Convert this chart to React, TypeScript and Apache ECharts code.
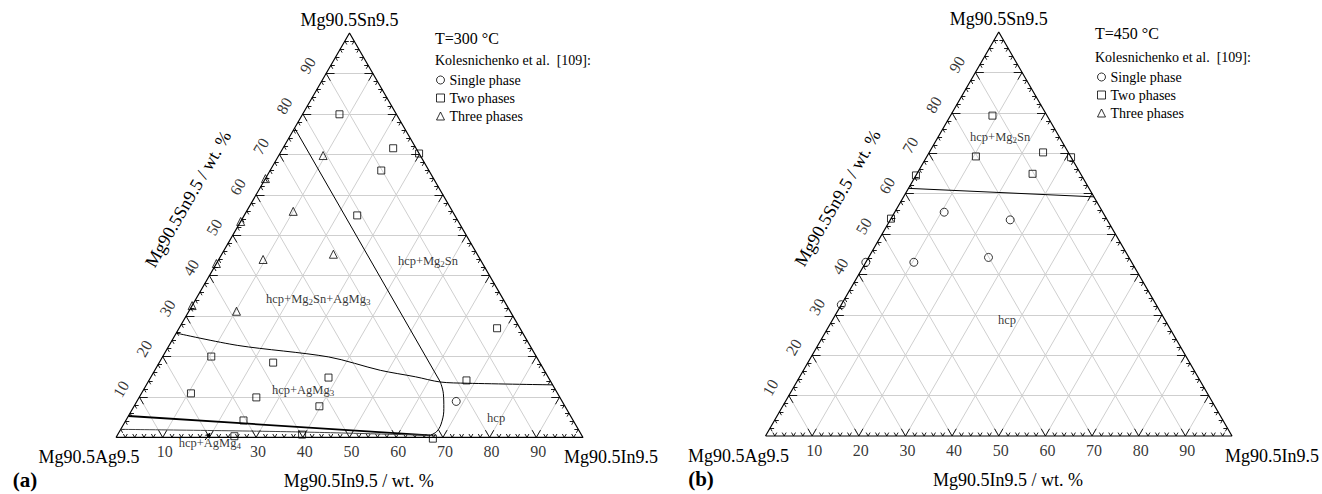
import React, { useEffect, useRef } from 'react';
import * as echarts from 'echarts';

const SQ = Math.sqrt(3) / 2;
const FONT = '"Liberation Serif", "Times New Roman", serif';

// All compositions are [Mg90.5In9.5 wt.%, Mg90.5Sn9.5 wt.%]
const aSingle = [[68.4, 8.9]];
const aTwo = [
  [7.9, 79.9], [23.6, 71.5], [29.8, 70.2], [23.8, 66.0], [24.2, 54.9],
  [68.1, 27.0], [68.0, 14.1], [10.4, 20.0], [24.4, 18.5], [38.1, 14.8],
  [10.6, 10.9], [25.1, 9.9], [39.7, 7.7], [25.2, 4.2], [25.2, 0.3],
  [39.5, 0.7], [68.0, -0.3],
];
const aThree = [
  [9.5, 69.7], [0, 64.0], [10.0, 55.9], [0, 53.4], [9.5, 44.0],
  [23.9, 45.3], [0, 43.0], [0, 32.6], [10.2, 31.2],
];
const bSingle = [[10.6, 55.4], [25.7, 53.5], [0, 43.0], [10.3, 43.0], [25.7, 44.2], [0, 32.5]];
const bTwo = [[9.0, 79.3], [10.5, 69.2], [24.4, 70.2], [31.0, 69.0], [24.8, 64.9], [0, 64.5], [0, 53.8]];
const bThree: number[][] = [];

// phase boundaries
const aBoundMg2Sn = [[0, 76.5], [62.6, 13.7]];
const aBoundAgMg3 = [[0, 25.8], [14.7, 22.75], [35.6, 19.9], [48.3, 16.6], [56.6, 15.0], [62.6, 13.7], [68.5, 13.4], [87.0, 13.0]];
const aBoundHcp = [[62.6, 13.7], [64.7, 10.8], [66.6, 7.2], [67.8, 4.0], [68.0, 1.6], [67.0, 0.5]];
const aBoundAgMg4 = [[0, 5.3], [67.0, 0.5]];
const aBoundBottom = [[0, 2.0], [36.8, 1.4], [67.0, 0.5]];
const bBoundMg2Sn = [[0, 61.3], [40.8, 59.2]];
const aArrow = [[19.4, -0.64], [19.6, 1.1]];

// region labels
const aRegionNames = ['hcp+Mg2Sn', 'hcp+Mg2Sn+AgMg3', 'hcp+AgMg3', 'hcp', 'hcp+AgMg4'];
const aRegionPos = [[45.1, 43.4], [26.3, 34.0], [34.2, 11.7], [79.0, 4.8], [20.9, -1.6]];
const bRegionNames = ['hcp+Mg2Sn', 'hcp'];
const bRegionPos = [[13.3, 74.0], [37.4, 28.7]];

// tick labels
const gridLevels = [10, 20, 30, 40, 50, 60, 70, 80, 90];
const leftTickLabels = [10, 20, 30, 40, 50, 60, 70, 80, 90];
const aBottomTickLabels = [10, 30, 40, 50, 60, 70, 80, 90];
const bBottomTickLabels = [10, 20, 30, 40, 50, 60, 70, 80, 90];

const vertexTop = 'Mg90.5Sn9.5';
const vertexLeft = 'Mg90.5Ag9.5';
const vertexRight = 'Mg90.5In9.5';
const axisBottom = 'Mg90.5In9.5 / wt. %';
const axisLeft = 'Mg90.5Sn9.5 / wt. %';
const legendNames = ['Single phase', 'Two phases', 'Three phases'];
const refText = 'Kolesnichenko et al.  [109]:';

const panels = [
  {
    L: 116, T: 33, S: 467, tag: '(a)', temp: 'T=300 °C',
    single: aSingle, two: aTwo, three: aThree,
    bounds: [
      { d: aBoundMg2Sn, w: 1, c: '#000', smooth: false },
      { d: aBoundAgMg3, w: 1, c: '#000', smooth: 0.3 },
      { d: aBoundHcp, w: 1, c: '#000', smooth: 0.4 },
      { d: aBoundAgMg4, w: 1.8, c: '#000', smooth: false },
      { d: aBoundBottom, w: 1, c: '#444', smooth: 0.3 },
    ],
    arrow: aArrow,
    regionNames: aRegionNames, regionPos: aRegionPos,
    bottomLabels: aBottomTickLabels,
    lay: { tagX: 25, rightOff: 28, tempX: 435, tempY: 38, refY: 60, legTop: 73, legLeft: 436 },
  },
  {
    L: 765.5, T: 32, S: 466.5, tag: '(b)', temp: 'T=450 °C',
    single: bSingle, two: bTwo, three: bThree,
    bounds: [{ d: bBoundMg2Sn, w: 1, c: '#000', smooth: false }],
    arrow: null,
    regionNames: bRegionNames, regionPos: bRegionPos,
    bottomLabels: bBottomTickLabels,
    lay: { tagX: 701, rightOff: 40, tempX: 1095, tempY: 33, refY: 57, legTop: 70, legLeft: 1097 },
  },
];

const tx = (In: number, Sn: number) => [In + Sn / 2, Sn * SQ];

function richName(name: string) {
  return name
    .split(/(\d)/)
    .map((t, i) => (i % 2 ? `{s|${t}}` : t ? `{n|${t}}` : ''))
    .join('');
}

function gridSegments() {
  const segs: any[] = [];
  gridLevels.forEach((p) => {
    segs.push({ coords: [tx(0, p), tx(100 - p, p)] });
    segs.push({ coords: [tx(p, 0), tx(p, 100 - p)] });
    segs.push({ coords: [tx(100 - p, 0), tx(0, 100 - p)] });
  });
  return segs;
}

function tickSegments() {
  const segs: any[] = [];
  for (let k = 2; k < 100; k += 2) {
    const L = k % 10 === 0 ? 1.8 : 0.85;
    segs.push({ coords: [tx(k, 0), tx(k, L)] });
    segs.push({ coords: [tx(k, 0), tx(k - L, L)] });
    segs.push({ coords: [tx(0, k), tx(L, k)] });
    segs.push({ coords: [tx(0, k), tx(L, k - L)] });
    segs.push({ coords: [tx(100 - k, k), tx(100 - k - L, k)] });
    segs.push({ coords: [tx(100 - k, k), tx(100 - k, k - L)] });
  }
  return segs;
}

function buildOption() {
  const series: any[] = [];
  const graphic: any[] = [];
  const legend: any[] = [];
  panels.forEach((p, i) => {
    const ax = { xAxisIndex: i, yAxisIndex: i };
    series.push({
      type: 'lines', coordinateSystem: 'cartesian2d', ...ax, silent: true, z: 1,
      lineStyle: { color: '#cfcfcf', width: 1, opacity: 1 },
      data: gridSegments(),
    });
    series.push({
      type: 'lines', coordinateSystem: 'cartesian2d', ...ax, silent: true, z: 3,
      lineStyle: { color: '#000', width: 0.9, opacity: 1 },
      data: tickSegments(),
    });
    series.push({
      type: 'line', ...ax, silent: true, z: 3, showSymbol: false, symbol: 'none', clip: false,
      lineStyle: { color: '#000', width: 1.2 },
      data: [tx(0, 0), tx(100, 0), tx(0, 100), tx(0, 0)],
    });
    p.bounds.forEach((b) => {
      series.push({
        type: 'line', ...ax, silent: true, z: 4, showSymbol: false, symbol: 'none', clip: false,
        smooth: b.smooth, lineStyle: { color: b.c, width: b.w },
        data: b.d.map(([a, s]) => tx(a, s)),
      });
    });
    if (p.arrow) {
      series.push({
        type: 'lines', coordinateSystem: 'cartesian2d', ...ax, silent: true, z: 4, clip: false,
        symbol: ['none', 'arrow'], symbolSize: 5,
        lineStyle: { color: '#000', width: 1, opacity: 1 },
        data: [{ coords: p.arrow.map(([a, s]) => tx(a, s)) }],
      });
    }
    const hollow = { color: 'rgba(255,255,255,0)', borderColor: '#000', borderWidth: 1 };
    series.push({ type: 'scatter', name: 'Single phase', ...ax, clip: false, symbol: 'circle', symbolSize: 8, z: 5, silent: true, itemStyle: hollow, data: p.single.map(([a, s]) => tx(a, s)) });
    series.push({ type: 'scatter', name: 'Two phases', ...ax, clip: false, symbol: 'rect', symbolSize: 7, z: 5, silent: true, itemStyle: hollow, data: p.two.map(([a, s]) => tx(a, s)) });
    series.push({ type: 'scatter', name: 'Three phases', ...ax, clip: false, symbol: 'triangle', symbolSize: 8, z: 5, silent: true, itemStyle: hollow, data: p.three.map(([a, s]) => tx(a, s)) });

    // tick labels
    const invisible = { color: 'rgba(0,0,0,0)' };
    series.push({
      type: 'scatter', ...ax, clip: false, symbolSize: 0.1, silent: true, z: 6, itemStyle: invisible,
      data: leftTickLabels.map((v) => ({ value: tx(0, v), name: String(v) })),
      label: { show: true, position: 'inside', formatter: '{b}', rotate: 60, offset: [-2.3, -20], align: 'center', verticalAlign: 'middle', fontFamily: FONT, fontSize: 16, color: '#000' },
    });
    series.push({
      type: 'scatter', ...ax, clip: false, symbolSize: 0.1, silent: true, z: 6, itemStyle: invisible,
      data: p.bottomLabels.map((v) => ({ value: tx(v, 0), name: String(v) })),
      label: { show: true, position: 'inside', formatter: '{b}', offset: [2, 14], align: 'center', verticalAlign: 'middle', fontFamily: FONT, fontSize: 16, color: '#000' },
    });
    // region labels
    series.push({
      type: 'scatter', ...ax, clip: false, symbolSize: 0.1, silent: true, z: 6, itemStyle: invisible,
      data: p.regionNames.map((n, j) => ({ value: tx(p.regionPos[j][0], p.regionPos[j][1]), name: n })),
      label: {
        show: true, position: 'inside', align: 'center', verticalAlign: 'middle',
        formatter: (prm: any) => richName(prm.name),
        rich: {
          n: { fontFamily: FONT, fontSize: 12.5, color: '#000', lineHeight: 14, verticalAlign: 'top' },
          s: { fontFamily: FONT, fontSize: 9, color: '#000', lineHeight: 10, padding: [7, 0, 0, 0], verticalAlign: 'bottom' },
        },
      },
    });

    legend.push({
      show: true, orient: 'vertical', left: p.lay.legLeft, top: p.lay.legTop, padding: 0,
      itemWidth: 8, itemHeight: 8, itemGap: 4, selectedMode: false,
      data: legendNames,
      textStyle: { fontFamily: FONT, fontSize: 14, color: '#000' },
      itemStyle: { color: 'rgba(255,255,255,0)', borderColor: '#000', borderWidth: 1 },
    });

    const H = p.S * SQ;
    const bottom = p.T + H;
    const right = p.L + p.S;
    const apex = p.L + p.S / 2;
    const txt = (x: number, y: number, text: string, size: number, extra: any = {}) => ({
      type: 'text', x, y, silent: true, rotation: extra.rotation || 0,
      style: { text, fontFamily: FONT, fontSize: size, fontWeight: extra.bold ? 'bold' : 'normal', fill: '#000', align: extra.align || 'center', verticalAlign: 'middle' },
    });
    graphic.push(txt(apex, p.T - 13, vertexTop, 18));
    graphic.push(txt(p.L - 27, bottom + 20, vertexLeft, 18));
    graphic.push(txt(right + p.lay.rightOff, bottom + 20, vertexRight, 18));
    graphic.push(txt(p.L + p.S * 0.52, bottom + 44, axisBottom, 18));
    graphic.push(txt(p.L + 72, p.T + 166, axisLeft, 18, { rotation: Math.PI / 3 }));
    graphic.push(txt(p.lay.tagX, bottom + 43, p.tag, 21, { bold: true }));
    graphic.push(txt(p.lay.tempX, p.lay.tempY, p.temp, 16, { align: 'left' }));
    graphic.push(txt(p.lay.tempX, p.lay.refY, refText, 14, { align: 'left' }));
  });

  return {
    animation: false,
    backgroundColor: '#ffffff',
    grid: panels.map((p) => ({ left: p.L, top: p.T, width: p.S, height: p.S * SQ })),
    xAxis: panels.map((p, i) => ({ type: 'value', gridIndex: i, min: 0, max: 100, show: false })),
    yAxis: panels.map((p, i) => ({ type: 'value', gridIndex: i, min: 0, max: 100 * SQ, show: false })),
    legend,
    series,
    graphic,
  };
}

export default function App() {
  const ref = useRef<HTMLDivElement>(null);
  useEffect(() => {
    if (!ref.current) return;
    const chart = echarts.init(ref.current, undefined, { renderer: 'svg' });
    chart.setOption(buildOption() as any);
    return () => chart.dispose();
  }, []);
  return (
    <div
      ref={ref}
      style={{ position: 'absolute', left: 0, top: 0, width: 1322, height: 494, background: '#fff' }}
    />
  );
}
